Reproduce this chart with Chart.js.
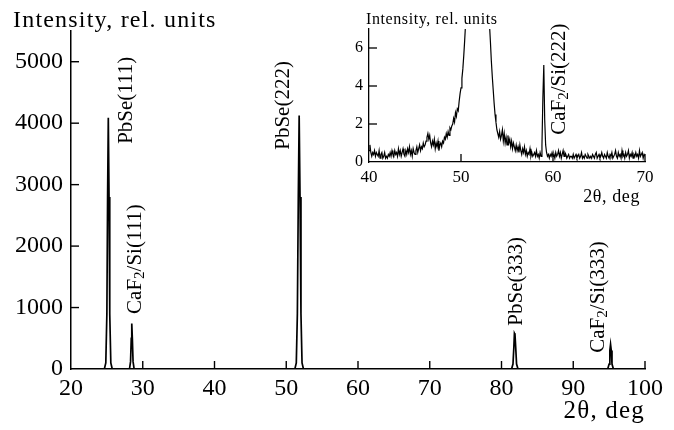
<!DOCTYPE html>
<html>
<head>
<meta charset="utf-8">
<script src="https://cdn.jsdelivr.net/npm/chart.js@4"></script>
<style>
  body { margin: 0; background: #fff; }
  #wrap { position: relative; width: 674px; height: 430px; }
  #mainChart { position: absolute; left: 0; top: 0; }
  #insetChart { position: absolute; left: 330px; top: 0; }
</style>
</head>
<body>
<div id="wrap">
  <canvas id="mainChart" width="674" height="430"></canvas>
  <canvas id="insetChart" width="344" height="215"></canvas>
</div>
<script>
// main pattern: 2theta (deg) and intensity (rel. units)
const mainAngle = [
  20, 24.65, 24.85, 25.0, 25.1, 25.2, 25.3, 25.4, 25.55, 25.75,
  28.15, 28.3, 28.4, 28.47, 28.55, 28.65, 28.8,
  51.2, 51.4, 51.55, 51.68, 51.8, 51.92, 52.05, 52.2, 52.4,
  81.4, 81.6, 81.72, 81.8, 81.88, 81.98, 82.1, 82.3,
  94.8, 95.0, 95.1, 95.2, 95.3, 95.4, 95.6, 100
];
const mainIntensity = [
  0, 0, 100, 900, 2800, 4090, 2800, 900, 100, 0,
  0, 120, 500, 740, 500, 120, 0,
  0, 100, 900, 2800, 4125, 2800, 900, 100, 0,
  0, 80, 350, 580, 560, 350, 80, 0,
  0, 80, 300, 400, 300, 80, 0, 0
];
const mainXTicks = [20, 30, 40, 50, 60, 70, 80, 90, 100];
const mainYTicks = [0, 1000, 2000, 3000, 4000, 5000];

// inset: 40..70 deg, step 0.1 deg
const insetStart = 40;
const insetStep = 0.1;
const insetIntensity = [
  0.6, 0.9, 0.5, 0.3, 0.5, 0.4, 0.6, 0.3, 0.5, 0.4,
  0.3, 0.6, 0.2, 0.4, 0.5, 0.2, 0.3, 0.5, 0.2, 0.3,
  0.2, 0.4, 0.3, 0.5, 0.3, 0.6, 0.4, 0.3, 0.6, 0.4,
  0.5, 0.3, 0.7, 0.4, 0.6, 0.3, 0.5, 0.7, 0.4, 0.3,
  0.6, 0.4, 0.7, 0.5, 0.8, 0.4, 0.6, 0.3, 0.7, 0.5,
  0.4, 0.6, 0.8, 0.5, 0.7, 0.9, 0.6, 0.8, 0.7, 1.0,
  0.8, 0.9, 1.1, 1.3, 1.5, 1.2, 1.4, 1.0, 0.8, 1.1,
  0.9, 1.2, 0.7, 1.0, 0.8, 1.1, 0.6, 0.9, 1.0, 0.8,
  1.1, 1.0, 1.3, 1.2, 1.5, 1.3, 1.6, 1.4, 1.8, 1.7,
  1.9, 2.0, 2.3, 2.1, 2.6, 2.4, 2.8, 2.7, 3.2, 3.6,
  3.9, 4.4, 4.9, 5.6, 6.4, 7.3, 8.5, 10, 12, 15,
  20, 30, 60, 150, 500, 1500, 3200, 4120, 4000, 3000,
  1600, 500, 150, 60, 30, 20, 15, 12, 10, 8.5,
  7.8, 7.2, 6.3, 5.3, 4.5, 3.8, 3.1, 2.5, 2.1, 1.7,
  1.5, 1.3, 1.6, 1.2, 1.4, 1.7, 1.1, 1.5, 1.0, 1.3,
  0.9, 1.4, 1.0, 1.2, 0.8, 1.1, 0.7, 1.0, 0.8, 0.6,
  0.9, 0.6, 0.8, 0.5, 0.9, 0.6, 0.4, 0.7, 0.5, 0.8,
  0.4, 0.6, 0.3, 0.5, 0.4, 0.7, 0.3, 0.5, 0.3, 0.4,
  0.5, 0.3, 0.6, 0.3, 0.4, 0.2, 0.5, 0.3, 0.9, 3.4,
  5.1, 2.2, 0.9, 0.5, 0.3, 0.4, 0.2, 0.4, 0.3, 0.5,
  0.3, 0.4, 0.2, 0.5, 0.3, 0.4, 0.6, 0.3, 0.5, 0.2,
  0.4, 0.6, 0.3, 0.5, 0.4, 0.2, 0.3, 0.4, 0.2, 0.3,
  0.3, 0.2, 0.4, 0.2, 0.3, 0.4, 0.2, 0.3, 0.4, 0.2,
  0.3, 0.5, 0.2, 0.3, 0.2, 0.4, 0.3, 0.2, 0.4, 0.3,
  0.2, 0.3, 0.2, 0.4, 0.3, 0.2, 0.4, 0.5, 0.2, 0.3,
  0.4, 0.2, 0.3, 0.5, 0.3, 0.2, 0.4, 0.3, 0.2, 0.5,
  0.3, 0.2, 0.4, 0.3, 0.5, 0.2, 0.3, 0.4, 0.6, 0.3,
  0.2, 0.5, 0.3, 0.4, 0.2, 0.6, 0.3, 0.4, 0.2, 0.5,
  0.3, 0.4, 0.6, 0.2, 0.4, 0.3, 0.5, 0.2, 0.4, 0.3,
  0.5, 0.3, 0.4, 0.2, 0.6, 0.3, 0.4, 0.5, 0.2, 0.4,
  0.3
];
const insetXTicks = [40, 50, 60, 70];
const insetYTicks = [0, 2, 4, 6];

// peak names ("_2" = subscript 2)
const mainPeakNames = ['PbSe(111)', 'CaF_2/Si(111)', 'PbSe(222)', 'PbSe(333)', 'CaF_2/Si(333)'];
const insetPeakNames = ['CaF_2/Si(222)'];

const serif = '"Liberation Serif", "Times New Roman", serif';
Chart.defaults.font.family = serif;
Chart.defaults.color = '#000';

// where the rotated names sit (data coords of the bottom/centre of the text)
const mainNamePos = [[27.67, 3664], [28.92, 896], [49.55, 3567], [82.02, 705], [93.45, 265]];
const insetNamePos = [[60.73, 1.43]];

function drawRotated(ctx, text, px, py, size) {
  const parts = text.split('_2');
  ctx.save();
  ctx.translate(px, py);
  ctx.rotate(-Math.PI / 2);
  ctx.textBaseline = 'middle';
  ctx.textAlign = 'left';
  ctx.fillStyle = '#000';
  let x = 0;
  parts.forEach((p, i) => {
    if (i > 0) {
      ctx.font = Math.round(size * 0.7) + 'px ' + serif;
      ctx.fillText('2', x, size * 0.22);
      x += ctx.measureText('2').width;
    }
    ctx.font = size + 'px ' + serif;
    ctx.fillText(p, x, 0);
    x += ctx.measureText(p).width;
  });
  ctx.restore();
}

const inwardTicks = {
  id: 'inwardTicks',
  afterDraw(chart, args, opts) {
    const { ctx, chartArea: a, scales: { x, y } } = chart;
    ctx.save();
    ctx.strokeStyle = '#000';
    ctx.lineWidth = opts.width;
    x.ticks.forEach(t => {
      if (t.value === x.min) return;
      const px = x.getPixelForValue(t.value);
      ctx.beginPath();
      ctx.moveTo(px, a.bottom);
      ctx.lineTo(px, a.bottom - opts.len);
      ctx.stroke();
    });
    y.ticks.forEach(t => {
      if (t.value === y.min) return;
      const py = y.getPixelForValue(t.value);
      ctx.beginPath();
      ctx.moveTo(a.left, py);
      ctx.lineTo(a.left + opts.len, py);
      ctx.stroke();
    });
    ctx.restore();
  }
};

const textBits = {
  id: 'textBits',
  afterDraw(chart, args, opts) {
    const { ctx, scales: { x, y } } = chart;
    ctx.save();
    ctx.fillStyle = '#000';
    ctx.textBaseline = 'alphabetic';
    ctx.font = opts.titleSize + 'px ' + serif;
    ctx.letterSpacing = opts.spacing + 'px';
    ctx.textAlign = 'left';
    ctx.fillText('Intensity, rel. units', opts.titleX, opts.titleY);
    // x axis name, right aligned
    ctx.font = opts.xNameSize + 'px ' + serif;
    ctx.textAlign = 'right';
    ctx.fillText('2θ, deg', opts.xNameRight, opts.xNameY);
    ctx.restore();
    opts.names.forEach((n, i) => {
      const [vx, vy] = opts.pos[i];
      drawRotated(ctx, n, x.getPixelForValue(vx), y.getPixelForValue(vy), opts.nameSize);
    });
  }
};

function toPoints(xs, ys) {
  return ys.map((v, i) => ({ x: xs[i], y: v }));
}

new Chart(document.getElementById('mainChart'), {
  type: 'line',
  data: {
    datasets: [{
      data: toPoints(mainAngle, mainIntensity),
      borderColor: '#000',
      borderWidth: 1.7,
      pointRadius: 0,
      tension: 0
    }]
  },
  options: {
    responsive: false,
    animation: false,
    layout: { padding: { top: 31, right: 29, left: 0, bottom: 0 } },
    plugins: {
      legend: { display: false },
      tooltip: { enabled: false },
      inwardTicks: { len: 8, width: 1.4 },
      textBits: {
        titleSize: 24, spacing: 1.2, titleX: 13, titleY: 27,
        xNameSize: 25, xNameRight: 645, xNameY: 418,
        names: mainPeakNames, pos: mainNamePos, nameSize: 21
      }
    },
    scales: {
      x: {
        type: 'linear', min: 20, max: 100,
        afterBuildTicks: s => { s.ticks = mainXTicks.map(v => ({ value: v })); },
        afterFit: s => { s.height = 61; },
        grid: { display: false, drawTicks: false },
        border: { color: '#000', width: 1.5 },
        ticks: { font: { size: 24 }, padding: 5, maxRotation: 0, autoSkip: false, color: '#000', callback: v => String(v) }
      },
      y: {
        type: 'linear', min: 0, max: 5500,
        afterBuildTicks: s => { s.ticks = mainYTicks.map(v => ({ value: v })); },
        afterFit: s => { s.width = 71; },
        grid: { display: false, drawTicks: false },
        border: { color: '#000', width: 1.5 },
        ticks: { font: { size: 24 }, padding: 8, color: '#000', callback: v => String(v) }
      }
    }
  },
  plugins: [inwardTicks, textBits]
});

new Chart(document.getElementById('insetChart'), {
  type: 'line',
  data: {
    datasets: [{
      data: insetIntensity.map((v, i) => ({ x: insetStart + i * insetStep, y: v })),
      borderColor: '#000',
      borderWidth: 1.2,
      pointRadius: 0,
      tension: 0
    }]
  },
  options: {
    responsive: false,
    animation: false,
    layout: { padding: { top: 29, right: 29, left: 0, bottom: 0 } },
    plugins: {
      legend: { display: false },
      tooltip: { enabled: false },
      inwardTicks: { len: 8, width: 1.3 },
      textBits: {
        titleSize: 16, spacing: 0.6, titleX: 36, titleY: 24,
        xNameSize: 18, xNameRight: 310, xNameY: 202,
        names: insetPeakNames, pos: insetNamePos, nameSize: 21
      }
    },
    scales: {
      x: {
        type: 'linear', min: 40, max: 70,
        afterBuildTicks: s => { s.ticks = insetXTicks.map(v => ({ value: v })); },
        afterFit: s => { s.height = 53; },
        grid: { display: false, drawTicks: false },
        border: { color: '#000', width: 1.3 },
        ticks: { font: { size: 17 }, padding: 5, maxRotation: 0, autoSkip: false, color: '#000' }
      },
      y: {
        type: 'linear', min: 0, max: 7,
        afterBuildTicks: s => { s.ticks = insetYTicks.map(v => ({ value: v })); },
        afterFit: s => { s.width = 39; },
        grid: { display: false, drawTicks: false },
        border: { color: '#000', width: 1.3 },
        ticks: { font: { size: 16 }, padding: 6, color: '#000' }
      }
    }
  },
  plugins: [inwardTicks, textBits]
});
</script>
</body>
</html>
